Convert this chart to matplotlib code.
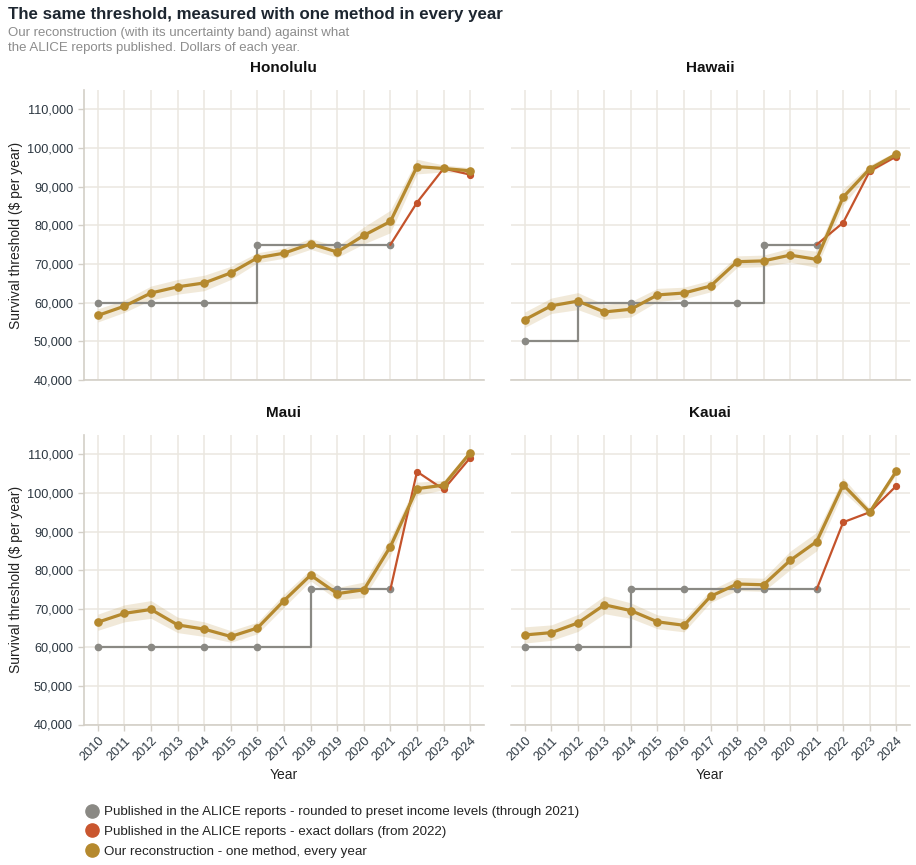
import matplotlib
matplotlib.use("Agg")
import matplotlib.pyplot as plt
from matplotlib.lines import Line2D
from matplotlib.ticker import FuncFormatter

plt.rcParams['font.family'] = ['Liberation Sans', 'DejaVu Sans']

years = list(range(2010, 2025))
cities = ["Honolulu", "Hawaii", "Maui", "Kauai"]

# our reconstruction (one method, every year) and half-width of its band
honolulu_recon = [56700, 59100, 62500, 64100, 65100, 67700, 71600, 72800, 75200, 73100, 77400, 81000, 95200, 94700, 94100]
hawaii_recon = [55600, 59200, 60400, 57600, 58300, 62000, 62500, 64300, 70600, 70800, 72300, 71200, 87300, 94600, 98400]
maui_recon = [66500, 68800, 69800, 65800, 64700, 62800, 65000, 72100, 78700, 73900, 74900, 86100, 101100, 102000, 110400]
kauai_recon = [63200, 63800, 66300, 71000, 69500, 66600, 65700, 73200, 76400, 76200, 82500, 87400, 102100, 95000, 105600]

honolulu_band = [1700, 1600, 1800, 1900, 2000, 1700, 1300, 1300, 1400, 1400, 2200, 2900, 1900, 900, 800]
hawaii_band = [2000, 2000, 2200, 1900, 2000, 1700, 1500, 1500, 1500, 1500, 1800, 2100, 2100, 1000, 700]
maui_band = [2100, 2200, 2300, 2000, 1900, 1500, 1500, 1700, 1500, 1600, 2000, 2300, 1700, 1200, 700]
kauai_band = [2100, 2000, 2200, 2300, 2000, 1800, 1700, 1600, 1700, 1700, 2400, 2400, 1800, 1000, 800]

# published, rounded to preset income levels (through 2021)
pub_years = [2010, 2012, 2014, 2016, 2018, 2019, 2021]
honolulu_pub = [60000, 60000, 60000, 75000, 75000, 75000, 75000]
hawaii_pub = [50000, 60000, 60000, 60000, 60000, 75000, 75000]
maui_pub = [60000, 60000, 60000, 60000, 75000, 75000, 75000]
kauai_pub = [60000, 60000, 75000, 75000, 75000, 75000, 75000]

# published, exact dollars (from 2022), joined to the 2021 rounded value
exact_years = [2021, 2022, 2023, 2024]
honolulu_exact = [75000, 85900, 94700, 93100]
hawaii_exact = [75000, 80700, 94000, 97800]
maui_exact = [75000, 105500, 100900, 109100]
kauai_exact = [75000, 92400, 95000, 101800]

recon = [honolulu_recon, hawaii_recon, maui_recon, kauai_recon]
band = [honolulu_band, hawaii_band, maui_band, kauai_band]
pub = [honolulu_pub, hawaii_pub, maui_pub, kauai_pub]
exact = [honolulu_exact, hawaii_exact, maui_exact, kauai_exact]

GOLD = "#b5892e"
RED = "#c4532b"
GREY = "#8a8984"
GRID = "#ebe7e0"
AXIS = "#d3cfc7"
TXT = "#2b3640"

W, H = 916, 865
fig = plt.figure(figsize=(W / 100, H / 100), dpi=100)

# panel boxes in pixels: left, top, width, height
boxes = [(83.5, 90, 400, 290), (510.5, 90, 399, 290),
         (83.5, 435, 400, 289.5), (510.5, 435, 399, 289.5)]

for i, name in enumerate(cities):
    l, t, w, h = boxes[i]
    ax = fig.add_axes([l / W, 1 - (t + h) / H, w / W, h / H])
    lo = [r - b for r, b in zip(recon[i], band[i])]
    hi = [r + b for r, b in zip(recon[i], band[i])]
    ax.fill_between(years, lo, hi, color=GOLD, alpha=0.18, lw=0, zorder=2)
    ax.plot(pub_years, pub[i], drawstyle="steps-post", color=GREY, lw=1.6,
            marker="o", ms=4.5, zorder=3)
    ax.plot(exact_years, exact[i], color=RED, lw=1.6, marker="o", ms=4.2,
            markevery=[1, 2, 3], zorder=4)
    ax.plot(years, recon[i], color=GOLD, lw=2.3, marker="o", ms=5.2, zorder=5)

    ax.set_xlim(2009.46, 2024.5)
    ax.set_ylim(40000, 115000)
    ax.set_xticks(years)
    ax.set_yticks(range(40000, 110001, 10000))
    ax.grid(True, color=GRID, lw=1.1, zorder=0)
    ax.set_axisbelow(True)
    for s in ["top", "right"]:
        ax.spines[s].set_visible(False)
    ax.spines["bottom"].set_color(AXIS)
    ax.spines["bottom"].set_linewidth(1.2)
    ax.spines["left"].set_color(AXIS)
    ax.spines["left"].set_linewidth(1.2)
    ax.tick_params(colors=AXIS, labelcolor=TXT, labelsize=9.2, length=4, width=1)
    ax.yaxis.set_major_formatter(FuncFormatter(lambda v, p: f"{int(v):,}"))

    if i % 2 == 1:
        ax.spines["left"].set_visible(False)
        ax.tick_params(axis="y", left=False, labelleft=False)
    else:
        fig.text(16 / W, 1 - (t + h / 2) / H, "Survival threshold ($ per year)",
                 rotation=90, ha="center", va="center", fontsize=10, color="#222222")
    if i < 2:
        ax.tick_params(axis="x", bottom=False, labelbottom=False)
    else:
        for lab in ax.get_xticklabels():
            lab.set_rotation(45)
            lab.set_ha("right")
            lab.set_va("top")
            lab.set_rotation_mode("anchor")
        fig.text((l + w / 2) / W, 1 - 775 / H, "Year", ha="center", va="center",
                 fontsize=10, color="#222222")

    fig.text((l + w / 2) / W, 1 - (t - 22) / H, name, ha="center", va="center",
             fontsize=11, fontweight="bold", color="#111111")

fig.text(8 / W, 1 - 14 / H, "The same threshold, measured with one method in every year",
         ha="left", va="center", fontsize=12.2, fontweight="bold", color="#1d2630")
fig.text(8 / W, 1 - 33 / H, "Our reconstruction (with its uncertainty band) against what",
         ha="left", va="center", fontsize=9.5, color="#8c8c8c")
fig.text(8 / W, 1 - 48 / H, "the ALICE reports published. Dollars of each year.",
         ha="left", va="center", fontsize=9.5, color="#8c8c8c")

handles = [Line2D([], [], ls="", marker="o", ms=9.5, color=GREY),
           Line2D([], [], ls="", marker="o", ms=9.5, color="#c9562f"),
           Line2D([], [], ls="", marker="o", ms=9.5, color=GOLD)]
labels = ["Published in the ALICE reports - rounded to preset income levels (through 2021)",
          "Published in the ALICE reports - exact dollars (from 2022)",
          "Our reconstruction - one method, every year"]
fig.legend(handles, labels, loc="upper left", bbox_to_anchor=(85.5 / W, 1 - 806 / H),
           frameon=False, fontsize=9.6, handlelength=1.0, handletextpad=0.4,
           labelspacing=0.55, borderaxespad=0, borderpad=0, labelcolor="#222222")

fig.savefig("out.png", dpi=100)
